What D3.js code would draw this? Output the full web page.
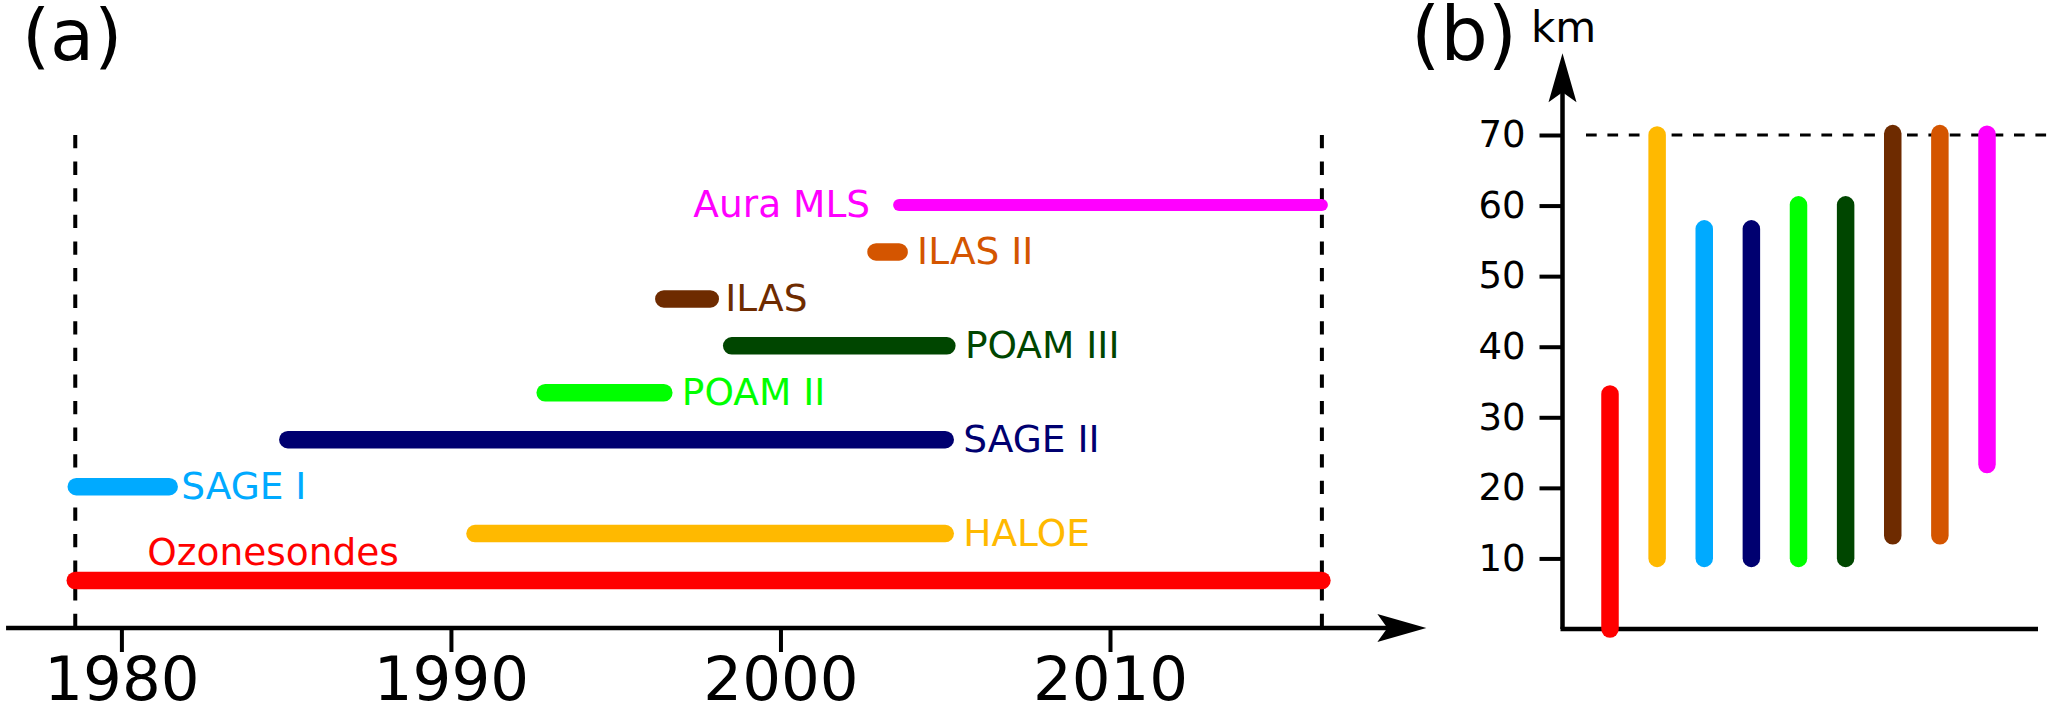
<!DOCTYPE html>
<html>
<head>
<meta charset="utf-8">
<script src="https://cdn.jsdelivr.net/npm/d3@7"></script>
<style>
  body { margin: 0; background: #fff; }
  svg { display: block; font-family: "DejaVu Sans", sans-serif; }
</style>
</head>
<body>
<div id="chart"></div>
<script>
// instruments, bottom row first
const instruments = ["Ozonesondes", "HALOE", "SAGE I", "SAGE II", "POAM II", "POAM III", "ILAS", "ILAS II", "Aura MLS"];
const startYear = [1978.6, 1990.73, 1978.63, 1985.05, 1992.86, 1998.52, 1996.46, 2002.9, 2003.6];
const endYear = [2016.43, 2005.0, 1981.45, 2005.0, 1996.46, 2005.05, 1997.87, 2003.6, 2016.43];
const bottomKm = [0, 10, 10, 10, 10, 10, 13.2, 13.2, 23.3];
const topKm = [33.3, 70, 56.7, 56.7, 60.1, 60.1, 70.2, 70.2, 70.1];
const colors = ["#ff0000", "#ffb900", "#00aaff", "#000070", "#00ff00", "#004600", "#6e2b00", "#d45500", "#ff00ff"];
const labelSide = ["above", "right", "right", "right", "right", "right", "right", "right", "left"];
const yearTicks = [1980, 1990, 2000, 2010];
const kmTicks = [10, 20, 30, 40, 50, 60, 70];
const timeAxisYears = [1976.5, 2019.6];
const altAxisTopKm = 81.6;
const refKm = 70;

const W = 2067, H = 712;
const svg = d3.select("#chart").append("svg").attr("width", W).attr("height", H);

// ---------- panel (a) ----------
const x = d3.scaleLinear().domain([1980, 2010]).range([121.4, 1110]);
const row = d3.scalePoint().domain(instruments).range([580.5, 205]);
const axisY = 628;

function arrowHead(g, tx, ty, dir) {
  // stealth style head, dir: "right" or "up"
  const L = 49, hw = 14, notch = 10;
  let pts;
  if (dir == "right") pts = [[tx, ty], [tx - L, ty - hw], [tx - L + notch, ty], [tx - L, ty + hw]];
  else pts = [[tx, ty], [tx - hw, ty + L], [tx, ty + L - notch], [tx + hw, ty + L]];
  g.append("path").attr("d", "M" + pts.map(p => p.join(",")).join("L") + "Z").attr("fill", "#000");
}

const ga = svg.append("g");

// dashed limits of the record
const ozIdx = 0;
[startYear[ozIdx], endYear[ozIdx]].forEach(function (yr) {
  ga.append("line").attr("x1", x(yr)).attr("x2", x(yr)).attr("y1", 135).attr("y2", axisY)
    .attr("stroke", "#000").attr("stroke-width", 4).attr("stroke-dasharray", "13.3,13.3");
});

// time axis
const xAxis = ga.append("g").attr("transform", "translate(0," + axisY + ")")
  .call(d3.axisBottom(x).tickValues(yearTicks).tickFormat(d3.format("d")).tickSize(24).tickSizeOuter(0).tickPadding(5));
xAxis.select(".domain").remove();
xAxis.selectAll(".tick line").attr("stroke", "#000").attr("stroke-width", 4);
xAxis.selectAll(".tick text").attr("font-size", 61).attr("font-family", "DejaVu Sans").attr("fill", "#000");
ga.append("line").attr("x1", x(timeAxisYears[0])).attr("x2", x(timeAxisYears[1]) - 20)
  .attr("y1", axisY).attr("y2", axisY).attr("stroke", "#000").attr("stroke-width", 4.5);
arrowHead(ga, x(timeAxisYears[1]), axisY, "right");

// bars
ga.selectAll("line.bar").data(instruments).enter().append("line").attr("class", "bar")
  .attr("x1", (d, i) => x(startYear[i])).attr("x2", (d, i) => x(endYear[i]))
  .attr("y1", d => row(d)).attr("y2", d => row(d))
  .attr("stroke", (d, i) => colors[i])
  .attr("stroke-width", d => d == "Aura MLS" ? 12 : 17.5)
  .attr("stroke-linecap", "round");

// labels
const labelGap = {"SAGE I": 12, "ILAS": 15};
ga.selectAll("text.lab").data(instruments).enter().append("text").attr("class", "lab")
  .attr("x", function (d, i) {
    if (labelSide[i] == "above") return x(startYear[i]) + 72;
    if (labelSide[i] == "left") return x(startYear[i]) - 29;
    return x(endYear[i]) + (labelGap[d] || 18);
  })
  .attr("y", (d, i) => labelSide[i] == "above" ? row(d) - 16 : row(d) + 12)
  .attr("text-anchor", (d, i) => labelSide[i] == "left" ? "end" : "start")
  .attr("font-size", 37.5)
  .attr("fill", (d, i) => colors[i])
  .text(d => d);

svg.append("text").attr("x", 22).attr("y", 60).attr("font-size", 72).text("(a)");

// ---------- panel (b) ----------
const gb = svg.append("g");
const xb = d3.scalePoint().domain(instruments).range([1610, 1987]);
const yb = d3.scaleLinear().domain([0, 70]).range([629, 135]);
const axisX = 1562.5;

const yAxis = gb.append("g").attr("transform", "translate(" + axisX + ",0)")
  .call(d3.axisLeft(yb).tickValues(kmTicks).tickSize(23).tickSizeOuter(0).tickPadding(14));
yAxis.select(".domain").remove();
yAxis.selectAll(".tick line").attr("stroke", "#000").attr("stroke-width", 4);
yAxis.selectAll(".tick text").attr("font-size", 37).attr("font-family", "DejaVu Sans").attr("fill", "#000");

gb.append("line").attr("x1", axisX).attr("x2", axisX).attr("y1", yb(0)).attr("y2", yb(altAxisTopKm) + 20)
  .attr("stroke", "#000").attr("stroke-width", 4.5);
arrowHead(gb, axisX, yb(altAxisTopKm), "up");
gb.append("line").attr("x1", axisX - 2).attr("x2", 2038).attr("y1", yb(0)).attr("y2", yb(0))
  .attr("stroke", "#000").attr("stroke-width", 4.5);

gb.append("line").attr("x1", 1586).attr("x2", 2047).attr("y1", yb(refKm)).attr("y2", yb(refKm))
  .attr("stroke", "#000").attr("stroke-width", 3).attr("stroke-dasharray", "10.7,10.7");

gb.selectAll("line.vbar").data(instruments).enter().append("line").attr("class", "vbar")
  .attr("x1", d => xb(d)).attr("x2", d => xb(d))
  .attr("y1", (d, i) => yb(bottomKm[i])).attr("y2", (d, i) => yb(topKm[i]))
  .attr("stroke", (d, i) => colors[i]).attr("stroke-width", 17.5).attr("stroke-linecap", "round");

svg.append("text").attr("x", 1411).attr("y", 60).attr("font-size", 75).text("(b)");
svg.append("text").attr("x", 1531).attr("y", 42).attr("font-size", 42).text("km");
</script>
</body>
</html>
